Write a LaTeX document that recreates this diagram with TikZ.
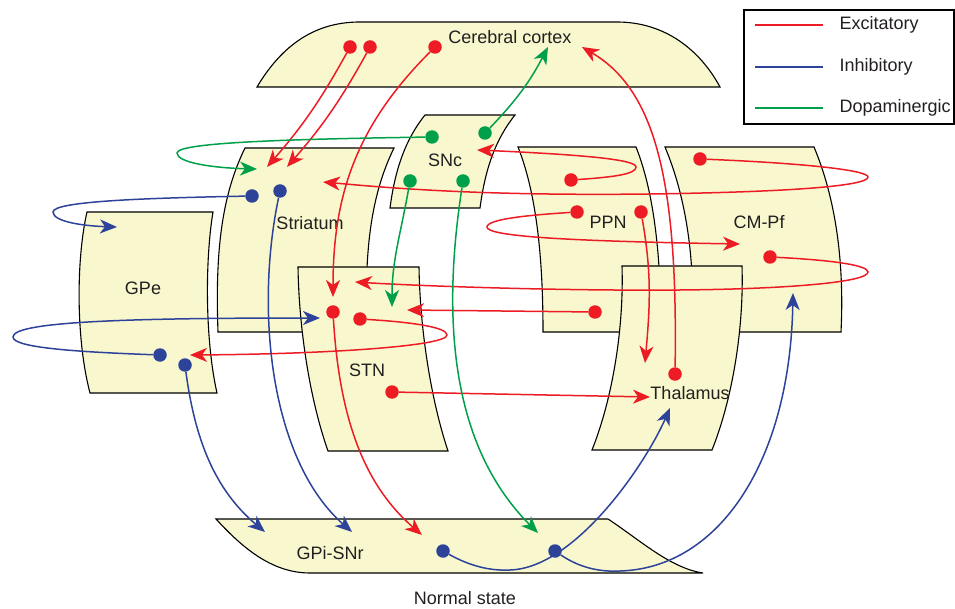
\documentclass[tikz,border=0pt]{standalone}
\usepackage{fontspec}
\setmainfont{Liberation Sans}
\usepackage{tikz}
\usepackage{xcolor}
\usetikzlibrary{arrows.meta,backgrounds}

\begin{document}
\begin{tikzpicture}[x=1pt,y=1pt,
    every node/.style={font=\fontsize{18}{20}\selectfont,text=color5},
    dote/.style={circle,fill=color1,inner sep=0pt,minimum size=13.5pt},
    doti/.style={circle,fill=color2,inner sep=0pt,minimum size=13.5pt},
    dotd/.style={circle,fill=color3,inner sep=0pt,minimum size=13.5pt},
    exc/.style={draw=color1,line width=1.5pt,-{Stealth[length=17pt,width=14pt,inset=5pt]}},
    inh/.style={draw=color2,line width=1.5pt,-{Stealth[length=17pt,width=14pt,inset=5pt]}},
    dop/.style={draw=color3,line width=1.5pt,-{Stealth[length=17pt,width=14pt,inset=5pt]}},
    region/.style={draw=black,line width=1.1pt,fill=color4}
  ]

  \definecolor{color1}{HTML}{ED1C24}
  \definecolor{color2}{HTML}{2D4399}
  \definecolor{color3}{HTML}{00A04B}
  \definecolor{color4}{HTML}{F9F7CE}
  \definecolor{color5}{HTML}{231F20}

  \useasboundingbox (0,0) rectangle (955,-609);

  \node (ctx)  at (510,-37)  {Cerebral cortex};
  \node (snc)  at (445,-160) {SNc};
  \node (str)  at (310,-223) {Striatum};
  \node (gpe)  at (143,-288) {GPe};
  \node (stn)  at (367,-370) {STN};
  \node (ppn)  at (608,-222) {PPN};
  \node (cmpf) at (759,-222) {CM-Pf};
  \node (thal) at (690,-393) {Thalamus};
  \node (gpi)  at (330,-553) {GPi-SNr};
  \node (state) at (465,-598) {Normal state};

  \node[dote] (ctx-d1)  at (350,-47)  {};
  \node[dote] (ctx-d2)  at (370,-47)  {};
  \node[dote] (ctx-d3)  at (435,-47)  {};
  \node[dotd] (snc-d1)  at (432,-137) {};
  \node[dotd] (snc-d2)  at (485,-133) {};
  \node[dotd] (snc-d3)  at (410,-181) {};
  \node[dotd] (snc-d4)  at (463,-181) {};
  \node[doti] (str-d1)  at (252,-196) {};
  \node[doti] (str-d2)  at (280,-191) {};
  \node[dote] (cmpf-d1) at (700,-159) {};
  \node[dote] (cmpf-d2) at (770,-257) {};
  \node[dote] (ppn-d1)  at (571,-180) {};
  \node[dote] (ppn-d2)  at (577,-212) {};
  \node[dote] (ppn-d3)  at (641,-212) {};
  \node[dote] (ppn-d4)  at (595,-312) {};
  \node[dote] (stn-d1)  at (333,-312) {};
  \node[dote] (stn-d2)  at (360,-319) {};
  \node[dote] (stn-d3)  at (392,-392) {};
  \node[doti] (gpe-d1)  at (160,-355) {};
  \node[doti] (gpe-d2)  at (185,-365) {};
  \node[dote] (thal-d1) at (675,-374) {};
  \node[doti] (gpi-d1)  at (443,-551) {};
  \node[doti] (gpi-d2)  at (555,-551) {};

  \coordinate (str-a1)  at (267,-167);
  \coordinate (str-a2)  at (287,-167);
  \coordinate (str-a3)  at (257,-169);
  \coordinate (str-a4)  at (323,-182);
  \coordinate (ctx-a1)  at (548,-47);
  \coordinate (ctx-a2)  at (582,-47);
  \coordinate (snc-a1)  at (477,-150);
  \coordinate (stn-a1)  at (333,-297);
  \coordinate (stn-a2)  at (355,-282);
  \coordinate (stn-a3)  at (392,-307);
  \coordinate (stn-a4)  at (407,-310);
  \coordinate (stn-a5)  at (320,-318);
  \coordinate (gpe-a1)  at (117,-227);
  \coordinate (gpe-a2)  at (190,-355);
  \coordinate (cmpf-a1) at (740,-244);
  \coordinate (cmpf-a2) at (793,-293);
  \coordinate (thal-a1) at (645,-363);
  \coordinate (thal-a2) at (650,-397);
  \coordinate (thal-a3) at (670,-408);
  \coordinate (gpi-a1)  at (265,-532);
  \coordinate (gpi-a2)  at (352,-532);
  \coordinate (gpi-a3)  at (422,-535);
  \coordinate (gpi-a4)  at (538,-533);

  \draw[exc] (ctx-d1) to[bend left=6] (str-a1);
  \draw[exc] (ctx-d2) to[bend left=6] (str-a2);
  \draw[exc] (ctx-d3) to[out=225,in=90] (stn-a1);
  \draw[exc] (thal-d1) .. controls (678,-180) and (655,-90) .. (ctx-a2);
  \draw[exc] (ppn-d1) .. controls (615,-177) and (636,-174) .. (636,-167) .. controls (636,-160) and (590,-155) .. (snc-a1);
  \draw[exc] (cmpf-d1) .. controls (800,-163) and (868,-170) .. (868,-177) .. controls (868,-186) and (790,-192) .. (650,-194) .. controls (480,-196) and (390,-188) .. (str-a4);
  \draw[exc] (ppn-d2) .. controls (530,-215) and (487,-219) .. (487,-227) .. controls (487,-236) and (560,-241) .. (cmpf-a1);
  \draw[exc] (ppn-d3) to[out=-80,in=85] (thal-a1);
  \draw[exc] (cmpf-d2) .. controls (830,-260) and (868,-265) .. (868,-272) .. controls (868,-282) and (790,-289) .. (680,-290) .. controls (560,-291) and (420,-286) .. (stn-a2);
  \draw[exc] (ppn-d4) -- (stn-a4);
  \draw[exc] (stn-d2) .. controls (410,-322) and (447,-327) .. (447,-335) .. controls (447,-346) and (330,-354) .. (gpe-a2);
  \draw[exc] (stn-d1) .. controls (340,-430) and (370,-490) .. (gpi-a3);
  \draw[exc] (stn-d3) -- (thal-a2);

  \draw[inh] (str-d1) .. controls (150,-198) and (53,-201) .. (53,-212) .. controls (53,-222) and (85,-226) .. (gpe-a1);
  \draw[inh] (str-d2) .. controls (255,-310) and (270,-460) .. (gpi-a2);
  \draw[inh] (gpe-d1) .. controls (80,-352) and (13,-348) .. (13,-337) .. controls (13,-322) and (120,-318) .. (stn-a5);
  \draw[inh] (gpe-d2) .. controls (195,-440) and (215,-490) .. (gpi-a1);
  \draw[inh] (gpi-d1) .. controls (470,-566) and (490,-571) .. (510,-570) .. controls (575,-568) and (645,-465) .. (thal-a3);
  \draw[inh] (gpi-d2) .. controls (580,-568) and (600,-572) .. (620,-571) .. controls (720,-568) and (790,-460) .. (cmpf-a2);

  \draw[dop] (snc-d1) .. controls (300,-139) and (177,-142) .. (177,-153) .. controls (177,-163) and (215,-168) .. (str-a3);
  \draw[dop] (snc-d2) to[bend right=8] (ctx-a1);
  \draw[dop] (snc-d3) to[out=-100,in=90] (stn-a3);
  \draw[dop] (snc-d4) .. controls (440,-330) and (455,-450) .. (gpi-a4);

  \draw[line width=1.1pt] (744,-10) rectangle (954,-124);
  \node[anchor=west] (key-exc) at (836,-25)  {Excitatory};
  \node[anchor=west] (key-inh) at (836,-67)  {Inhibitory};
  \node[anchor=west] (key-dop) at (836,-108) {Dopaminergic};
  \draw[color1,line width=1.5pt] ([xshift=-13pt]key-exc.west) -- ++(-68,0);
  \draw[color2,line width=1.5pt] ([xshift=-13pt]key-inh.west) -- ++(-68,0);
  \draw[color3,line width=1.5pt] ([xshift=-13pt]key-dop.west) -- ++(-68,0);

  \begin{scope}[on background layer]
    \draw[region] (257,-87) .. controls (285,-40) and (320,-22) .. (360,-22) -- (617,-22) .. controls (665,-22) and (700,-50) .. (720,-87) -- cycle;
    \draw[region] (87,-212) -- (213,-212) .. controls (205,-260) and (205,-340) .. (217,-393) -- (90,-393) .. controls (76,-340) and (76,-260) .. (87,-212) -- cycle;
    \draw[region] (245,-148) -- (394,-148) .. controls (371,-195) and (364,-250) .. (367,-332) -- (218,-332) .. controls (215,-250) and (222,-195) .. (245,-148) -- cycle;
    \draw[region] (425,-115) -- (515,-115) .. controls (495,-140) and (485,-170) .. (480,-208) -- (390,-208) .. controls (395,-170) and (405,-140) .. (425,-115) -- cycle;
    \draw[region] (298,-267) -- (419,-267) .. controls (420,-330) and (431,-400) .. (448,-451) -- (328,-451) .. controls (310,-400) and (299,-330) .. (298,-267) -- cycle;
    \draw[region] (518,-147) -- (636,-147) .. controls (653,-190) and (661,-250) .. (661,-332) -- (543,-332) .. controls (543,-250) and (535,-190) .. (518,-147) -- cycle;
    \draw[region] (665,-147) -- (814,-147) .. controls (832,-190) and (845,-250) .. (841,-332) -- (692,-332) .. controls (696,-250) and (683,-190) .. (665,-147) -- cycle;
    \draw[region] (622,-266) -- (742,-266) .. controls (744,-330) and (732,-400) .. (712,-450) -- (592,-450) .. controls (612,-400) and (624,-330) .. (622,-266) -- cycle;
    \draw[region] (216,-519) -- (608,-519) .. controls (640,-540) and (670,-568) .. (703,-573) -- (310,-573) .. controls (270,-573) and (240,-545) .. (216,-519) -- cycle;
  \end{scope}
\end{tikzpicture}
\end{document}
